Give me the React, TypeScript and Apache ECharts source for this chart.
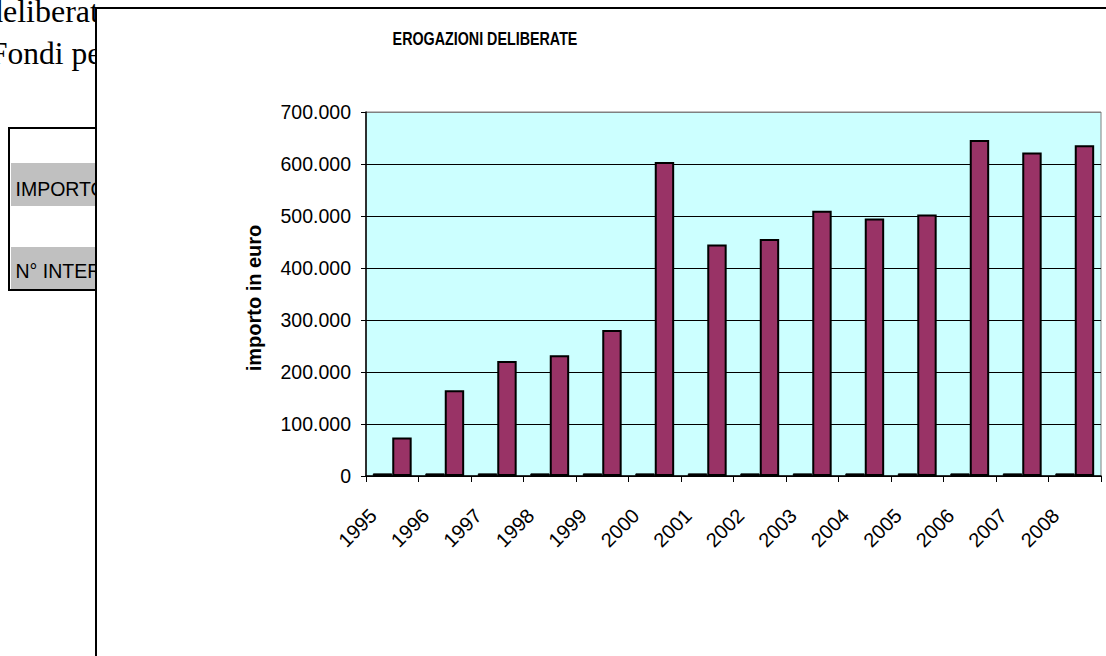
import React, { useEffect, useRef } from "react";
import * as echarts from "echarts";

const years = ["1995", "1996", "1997", "1998", "1999", "2000", "2001", "2002", "2003", "2004", "2005", "2006", "2007", "2008"];
const importo = [74000, 165000, 221000, 232000, 281000, 604000, 445000, 456000, 510000, 495000, 503000, 646000, 622000, 636000];
const interventi = [5000, 5000, 5000, 5000, 5000, 5000, 5000, 5000, 5000, 5000, 5000, 5000, 5000, 5000];
const yMax = 700000;
const yStep = 100000;
const chartTitle = "EROGAZIONI DELIBERATE";
const yAxisTitle = "importo in euro";
const docLine1 = "deliberate";
const docLine2 = "Fondi per";
const tableRow1 = "IMPORTO";
const tableRow2 = "N° INTERVENTI";

const SANS = 'Arial, "Liberation Sans", sans-serif';
const SERIF = '"Times New Roman", "Liberation Serif", serif';

const fmt = (v: number) => String(v).replace(/\B(?=(\d{3})+(?!\d))/g, ".");

export default function App() {
  const ref = useRef<HTMLDivElement>(null);
  useEffect(() => {
    if (!ref.current) return;
    const chart = echarts.init(ref.current, null, { renderer: "svg" });
    const splitColors: string[] = [];
    for (let v = 0; v <= yMax; v += yStep) splitColors.push(v === yMax ? "#808080" : "#000000");
    chart.setOption({
      animation: false,
      backgroundColor: "#ffffff",
      graphic: [
        { type: "text", z: -10, x: -13, y: 11, style: { text: docLine1, fontFamily: SERIF, fontSize: 32, fill: "#000", verticalAlign: "middle" } },
        { type: "text", z: -10, x: -10, y: 53, style: { text: docLine2, fontFamily: SERIF, fontSize: 31.5, fill: "#000", verticalAlign: "middle" } },
        { type: "rect", z: -10, shape: { x: 9, y: 128, width: 120, height: 162 }, style: { fill: "#fff", stroke: "#000", lineWidth: 2 } },
        { type: "rect", z: -9, shape: { x: 11, y: 163, width: 120, height: 43 }, style: { fill: "#C0C0C0" } },
        { type: "rect", z: -9, shape: { x: 11, y: 247, width: 120, height: 42 }, style: { fill: "#C0C0C0" } },
        { type: "text", z: -8, x: 15.5, y: 189, style: { text: tableRow1, fontFamily: SANS, fontSize: 19.5, fill: "#000", verticalAlign: "middle" } },
        { type: "text", z: -8, x: 15.5, y: 271, style: { text: tableRow2, fontFamily: SANS, fontSize: 19.5, fill: "#000", verticalAlign: "middle" } },
        { type: "rect", z: -5, shape: { x: 96, y: 8, width: 1100, height: 700 }, style: { fill: "#fff", stroke: "#000", lineWidth: 2 } },
        {
          type: "text",
          z: 10,
          x: 485,
          y: 38.5,
          scaleY: 1.3,
          style: { text: chartTitle, fontFamily: SANS, fontWeight: "bold", fontSize: 14.3, fill: "#000", align: "center", verticalAlign: "middle" },
        },
      ],
      grid: {
        left: 366,
        top: 112,
        right: 5,
        bottom: 180,
        show: true,
        backgroundColor: "#CCFFFF",
        borderColor: "#808080",
        borderWidth: 1,
      },
      xAxis: {
        type: "category",
        data: years,
        axisLine: { lineStyle: { color: "#000", width: 1.5 } },
        axisTick: { show: true, length: 6, lineStyle: { color: "#000", width: 1 } },
        axisLabel: {
          interval: 0,
          rotate: 45,
          margin: 17,
          formatter: (v: string) => `{v|${v}}{g| }`,
          rich: {
            v: { fontSize: 20, fontFamily: SANS, color: "#000" },
            g: { width: 27, fontSize: 20 },
          },
        },
        splitLine: { show: false },
      },
      yAxis: {
        type: "value",
        min: 0,
        max: yMax,
        interval: yStep,
        name: yAxisTitle,
        nameLocation: "middle",
        nameRotate: 90,
        nameGap: 102,
        nameTextStyle: { fontSize: 20, fontWeight: "bold", fontFamily: SANS, color: "#000", padding: [0, 8, 0, 0] },
        axisLine: { show: true, lineStyle: { color: "#000", width: 1.5 } },
        axisTick: { show: true, length: 5, lineStyle: { color: "#000" } },
        axisLabel: { formatter: fmt, margin: 15, fontSize: 19.5, fontFamily: SANS, color: "#000" },
        splitLine: { show: true, lineStyle: { color: splitColors, width: 1 } },
      },
      series: [
        {
          name: tableRow2,
          type: "bar",
          data: interventi,
          z: 4,
          barGap: "0%",
          barCategoryGap: "26%",
          itemStyle: { color: "#000", borderColor: "#000", borderWidth: 1 },
        },
        {
          name: tableRow1,
          type: "bar",
          data: importo,
          z: 4,
          barGap: "0%",
          barCategoryGap: "26%",
          itemStyle: { color: "#993366", borderColor: "#000", borderWidth: 2 },
        },
      ],
    });
    return () => chart.dispose();
  }, []);
  return (
    <div
      ref={ref}
      style={{ position: "absolute", left: 0, top: 0, width: 1106, height: 656, overflow: "hidden" }}
    />
  );
}
